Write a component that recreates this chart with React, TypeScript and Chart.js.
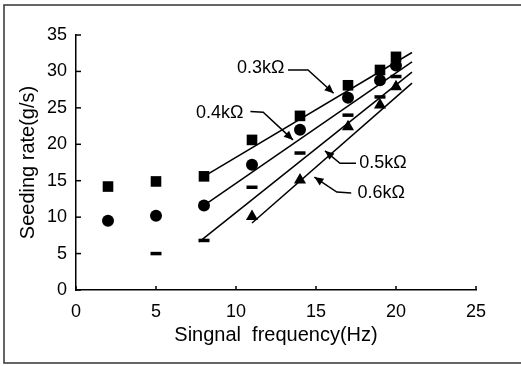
import { useEffect, useRef } from 'react';
import { Chart, registerables } from 'chart.js';

Chart.register(...registerables);

// ---- data ----
const frequencies = [2, 5, 8, 11, 14, 17, 19, 20];
const rate03 = [14.2, 14.9, 15.6, 20.6, 23.9, 28.1, 30.2, 32.0];
const rate04 = [9.5, 10.2, 11.6, 17.2, 22.0, 26.4, 28.8, 30.8];
const rate05 = [null, 5.0, 6.8, 14.1, 18.8, 24.0, 26.5, 29.3];
const rate06 = [null, null, null, 10.1, 15.1, 22.4, 25.4, 27.9];
const seriesNames = ['0.3kΩ', '0.4kΩ', '0.5kΩ', '0.6kΩ'];

// fitted trend lines (end points, data units)
const trendStartX = [8, 8, 7.7, 11];
const trendStartY = [15.6, 11.6, 6.6, 9.2];
const trendEndX = [21, 21, 21, 21];
const trendEndY = [32.6, 31.3, 29.9, 28.4];

const xTickValues = [0, 5, 10, 15, 20, 25];
const yTickValues = [0, 5, 10, 15, 20, 25, 30, 35];

// callout labels (data units)
const calloutTextX = [10.06, 7.5, 17.7, 17.6];
const calloutTextY = [30.5, 24.3, 17.4, 13.3];
const calloutPaths: number[][][] = [
  [[13.25, 30.2], [14.5, 30.2], [16.1, 27.0]],
  [[10.9, 24.5], [11.7, 24.4], [13.56, 20.6]],
  [[17.5, 17.4], [16.5, 17.4], [15.56, 19.1]],
  [[17.2, 13.3], [16.3, 13.45], [14.9, 15.5]],
];

const FONT = "'Liberation Sans', Arial, sans-serif";

const pts = (ys: (number | null)[]) =>
  frequencies.map((x, i) => ({ x, y: ys[i] })).filter((p) => p.y !== null);

export default function App() {
  const ref = useRef<HTMLCanvasElement | null>(null);

  useEffect(() => {
    if (!ref.current) return;

    const decor = {
      id: 'decor',
      afterDraw(chart: any) {
        const { ctx, chartArea, scales } = chart;
        const xs = scales.x;
        const ys = scales.y;
        ctx.save();
        // frame
        ctx.strokeStyle = '#333';
        ctx.lineWidth = 1.5;
        ctx.beginPath();
        ctx.moveTo(521, 5);
        ctx.lineTo(4, 5);
        ctx.lineTo(4, 363);
        ctx.lineTo(521, 363);
        ctx.stroke();
        // inward ticks
        ctx.strokeStyle = '#000';
        ctx.lineWidth = 1.5;
        xTickValues.forEach((v) => {
          const px = xs.getPixelForValue(v);
          ctx.beginPath();
          ctx.moveTo(px, chartArea.bottom);
          ctx.lineTo(px, chartArea.bottom - 4);
          ctx.stroke();
        });
        yTickValues.forEach((v) => {
          const py = ys.getPixelForValue(v);
          ctx.beginPath();
          ctx.moveTo(chartArea.left, py);
          ctx.lineTo(chartArea.left + 5, py);
          ctx.stroke();
        });
        // callouts
        ctx.fillStyle = '#000';
        ctx.font = `18px ${FONT}`;
        ctx.textAlign = 'left';
        ctx.textBaseline = 'middle';
        seriesNames.forEach((name, i) => {
          ctx.fillText(name, xs.getPixelForValue(calloutTextX[i]), ys.getPixelForValue(calloutTextY[i]));
          const path = calloutPaths[i].map(([dx, dy]) => [xs.getPixelForValue(dx), ys.getPixelForValue(dy)]);
          ctx.beginPath();
          ctx.lineWidth = 1.5;
          ctx.moveTo(path[0][0], path[0][1]);
          for (let k = 1; k < path.length; k++) ctx.lineTo(path[k][0], path[k][1]);
          ctx.stroke();
          const [tx, ty] = path[path.length - 1];
          const [px, py] = path[path.length - 2];
          const ang = Math.atan2(ty - py, tx - px);
          const L = 9;
          const W = 4;
          ctx.beginPath();
          ctx.moveTo(tx, ty);
          ctx.lineTo(tx - L * Math.cos(ang) + W * Math.sin(ang), ty - L * Math.sin(ang) - W * Math.cos(ang));
          ctx.lineTo(tx - L * Math.cos(ang) - W * Math.sin(ang), ty - L * Math.sin(ang) + W * Math.cos(ang));
          ctx.closePath();
          ctx.fill();
        });
        ctx.restore();
      },
    };

    const trendSets = trendStartX.map((sx, i) => ({
      type: 'line' as const,
      label: 'trend ' + seriesNames[i],
      data: [
        { x: sx, y: trendStartY[i] },
        { x: trendEndX[i], y: trendEndY[i] },
      ],
      borderColor: '#000',
      borderWidth: 1.5,
      pointRadius: 0,
      fill: false,
    }));

    const chart = new Chart(ref.current, {
      type: 'scatter',
      data: {
        datasets: [
          ...trendSets,
          {
            label: seriesNames[0],
            data: pts(rate03),
            pointStyle: 'rect',
            pointRadius: 7.5,
            backgroundColor: '#000',
            borderColor: '#000',
            borderWidth: 0,
          },
          {
            label: seriesNames[1],
            data: pts(rate04),
            pointStyle: 'circle',
            pointRadius: 6,
            backgroundColor: '#000',
            borderColor: '#000',
            borderWidth: 0,
          },
          {
            label: seriesNames[2],
            data: pts(rate05),
            pointStyle: 'line',
            pointRadius: 5.5,
            backgroundColor: '#000',
            borderColor: '#000',
            borderWidth: 3.5,
          },
          {
            label: seriesNames[3],
            data: pts(rate06),
            pointStyle: 'triangle',
            pointRadius: 7,
            backgroundColor: '#000',
            borderColor: '#000',
            borderWidth: 0,
          },
        ] as any,
      },
      options: {
        animation: false,
        responsive: false,
        maintainAspectRatio: false,
        layout: { padding: { left: 0, top: 35, right: 45, bottom: 0 } },
        plugins: {
          legend: { display: false },
          tooltip: { enabled: false },
        },
        scales: {
          x: {
            type: 'linear',
            min: 0,
            max: 25,
            afterFit: (s: any) => {
              s.height = 76;
            },
            grid: { display: false, drawTicks: false },
            border: { display: true, color: '#000', width: 1.5 },
            ticks: {
              stepSize: 5,
              padding: 11,
              color: '#000',
              font: { family: FONT, size: 18 },
            },
            title: {
              display: true,
              text: 'Singnal  frequency(Hz)',
              color: '#000',
              font: { family: FONT, size: 20 },
              padding: { top: 0, bottom: 19 },
            },
          },
          y: {
            type: 'linear',
            min: 0,
            max: 35,
            afterFit: (s: any) => {
              s.width = 76;
            },
            grid: { display: false, drawTicks: false },
            border: { display: true, color: '#000', width: 1.5 },
            ticks: {
              stepSize: 5,
              padding: 9,
              color: '#000',
              font: { family: FONT, size: 18 },
            },
            title: {
              display: true,
              text: 'Seeding rate(g/s)',
              color: '#000',
              font: { family: FONT, size: 20 },
              padding: { top: 16, bottom: 0 },
            },
          },
        },
      },
      plugins: [decor],
    });

    return () => chart.destroy();
  }, []);

  return (
    <div style={{ position: 'absolute', left: 0, top: 0, width: 521, height: 366, background: '#fff' }}>
      <canvas ref={ref} width={521} height={366} style={{ display: 'block', width: 521, height: 366 }} />
    </div>
  );
}
